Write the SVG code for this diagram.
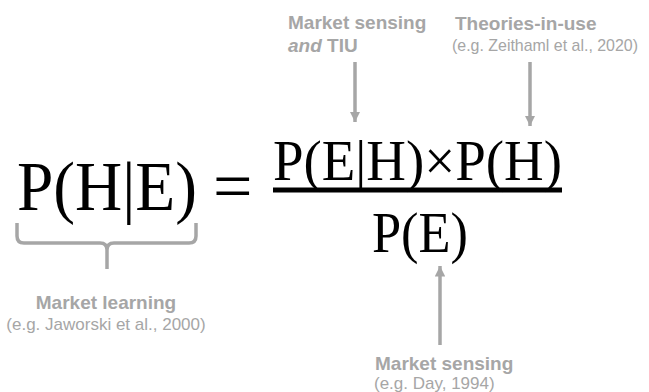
<svg xmlns="http://www.w3.org/2000/svg" width="649" height="392" viewBox="0 0 649 392">
<defs>
<style>
.f{font-family:"Liberation Serif","Times New Roman",serif;fill:#000}
.b{font-family:"Liberation Sans",Arial,sans-serif;font-weight:bold;font-size:19px;fill:#a6a6a6}
.r{font-family:"Liberation Sans",Arial,sans-serif;font-size:17px;fill:#a6a6a6}
.c{stroke:#a6a6a6;stroke-width:3.5;fill:none}
</style>
<marker id="ah" viewBox="0 0 10 10" refX="10" refY="5" markerWidth="3" markerHeight="3" orient="auto" markerUnits="strokeWidth">
<path d="M0,0 L10,5 L0,10 z" fill="#a6a6a6"/>
</marker>
</defs>
<rect width="649" height="392" fill="#fff"/>
<g id="equation">
<text class="f" x="17" y="210" font-size="70" textLength="180" lengthAdjust="spacingAndGlyphs">P(H|E)</text>
<text class="f" x="213" y="210" font-size="70">=</text>
<text class="f" x="273" y="180" font-size="56" textLength="289" lengthAdjust="spacingAndGlyphs">P(E|H)×P(H)</text>
<rect x="273" y="187.5" width="289" height="5" fill="#000"/>
<text class="f" x="372" y="252" font-size="58" textLength="96" lengthAdjust="spacingAndGlyphs">P(E)</text>
</g>
<g id="market-learning">
<path class="c" d="M17,223 V236 Q17,243 24,243 H100 Q107,243 107,250 V269 M107,250 Q107,243 114,243 H189 Q196,243 196,236 V223"/>
<text class="b" x="106" y="309" text-anchor="middle">Market learning</text>
<text class="r" x="106" y="330" text-anchor="middle">(e.g. Jaworski et al., 2000)</text>
</g>
<g id="market-sensing-tiu">
<text class="b" x="288" y="29">Market sensing</text>
<text class="b" x="288" y="52"><tspan font-style="italic">and</tspan> TIU</text>
</g>
<g id="theories-in-use">
<text class="b" x="455" y="30">Theories-in-use</text>
<text class="r" x="452" y="51" font-size="16" textLength="186" lengthAdjust="spacingAndGlyphs">(e.g. Zeithaml et al., 2020)</text>
</g>
<g id="market-sensing">
<text class="b" x="375" y="370">Market sensing</text>
<text class="r" x="374" y="389">(e.g. Day, 1994)</text>
</g>
<g id="connectors">
<line class="c" x1="355" y1="62" x2="355" y2="122" marker-end="url(#ah)"/>
<line class="c" x1="530" y1="62" x2="530" y2="126" marker-end="url(#ah)"/>
<line class="c" x1="440" y1="345" x2="440" y2="266" marker-end="url(#ah)"/>
</g>
</svg>
